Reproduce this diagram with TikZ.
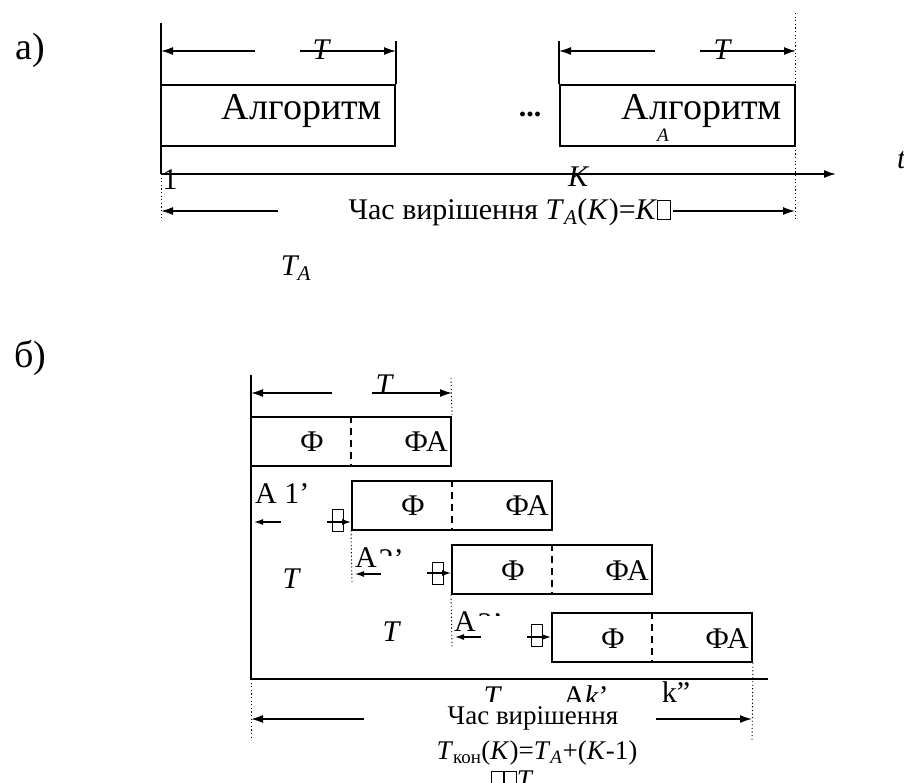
\documentclass[tikz,border=0pt]{standalone}
\usepackage{fontspec}
\setmainfont{Liberation Serif}
\usetikzlibrary{arrows.meta}
\newcommand\glyphbox{{\setlength\fboxsep{0pt}\setlength\fboxrule{0.9pt}\fbox{\rule{0pt}{0.62em}\hspace{0.42em}}}}
\begin{document}
\begin{tikzpicture}[x=1pt,y=-1pt,
  ln/.style={line width=1.5pt},
  arr/.style={ln,-{Latex[length=12pt,width=8pt]}},
  sarr/.style={line width=1.2pt,-{Latex[length=9pt,width=6pt]}},
  dotl/.style={line width=0.9pt,dash pattern=on 1.2pt off 2.4pt},
  blk/.style={draw,line width=2pt,rectangle,inner sep=0pt},
  algbox/.style={blk,minimum width=234pt,minimum height=61pt},
  phibox/.style={blk,minimum width=200pt,minimum height=49pt},
  gbox/.style={draw,line width=1pt,rectangle,inner sep=0pt,minimum width=11pt,minimum height=22pt},
  divider/.style={line width=2pt,dash pattern=on 7pt off 5pt},
  lbl/.style={inner sep=0pt,font=\fontsize{30}{34}\selectfont},
  big/.style={inner sep=0pt,font=\fontsize{38}{42}\selectfont},
  capa/.style={inner sep=1pt,font=\fontsize{30}{34}\selectfont},
  capb/.style={inner sep=1pt,font=\fontsize{27}{30}\selectfont},
  it/.style={inner sep=0pt,font=\fontsize{30}{34}\selectfont\itshape},
  sub/.style={inner sep=0pt,font=\fontsize{19}{22}\selectfont\itshape}
]
\useasboundingbox (0,0) rectangle (904,783);
% ---------------- part a ----------------
\node[big] (la) at (30,50) {а)};
\node[algbox] (b1) at (278,115.5) {};
\node[algbox,minimum width=235pt] (b2) at (677.5,115.5) {};
\node[big] (t1) at (302,111) {Алгоритм};
\node[big] (t2) at (702,111) {Алгоритм};
\node[sub] (t2s) at (663,135) {A};
\node[lbl] (dots) at (530,114) {\textbf{...}};
\coordinate (vtop) at (161,23);
\coordinate (ax0) at (161,174);
\coordinate (ax1) at (836,174);
\draw[ln] (vtop) -- (ax0);
\draw[arr] (ax0) -- (ax1);
% top dimension arrows
\coordinate (d1a) at (255,51);
\coordinate (d1b) at (300,51);
\draw[arr] (d1a) -- (vtop |- d1a);
\draw[arr] (d1b) -- (b1.north east |- d1b);
\draw[ln] (b1.north east) -- ++(0,-43);
\node[it] (T1) at (321,50) {T};
\coordinate (d2a) at (655,51);
\coordinate (d2b) at (700,51);
\draw[arr] (d2a) -- (b2.north west |- d2a);
\draw[arr] (d2b) -- (b2.north east |- d2b);
\draw[ln] (b2.north west) -- ++(0,-43);
\node[it] (T2) at (722,50) {T};
% dotted verticals
\coordinate (dr0) at (795,13);
\coordinate (dr1) at (795,220);
\draw[dotl] (dr0) -- (dr1);
\coordinate (dl1) at (161,220);
\draw[dotl] (ax0) -- (dl1);
% axis labels
\node[lbl] (n1) at (170,180) {1};
\node[it] (nK) at (578,177) {K};
\node[it,anchor=west] (nt) at (897,160) {t};
% solution time
\node[capa] (capA) at (510,212) {Час вирішення \textit{T}\textsubscript{\textit{A}}(\textit{K})=\textit{K}\glyphbox};
\coordinate (ba1) at (278,211);
\draw[arr] (ba1) -- (ax0 |- ba1);
\draw[arr] (capA.east |- ba1) -- (dr0 |- ba1);
\node[it] (TA) at (296,268) {T\textsubscript{\textit{A}}};
% ---------------- part b ----------------
\node[big] (lb) at (30,358) {б)};
\coordinate (vb0) at (251,375);
\coordinate (vb1) at (251,679);
\coordinate (axb1) at (768,679);
\draw[ln] (vb0) -- (vb1) -- (axb1);
\node[phibox] (F1) at (351,441) {};
\node[phibox] (F2) at (452,505) {};
\node[phibox] (F3) at (552,569.5) {};
\node[phibox] (F4) at (652,637.5) {};
\foreach \f in {F1,F2,F3,F4}{
  \draw[divider] (\f.north) -- (\f.south);
  \node[lbl] at ([xshift=62pt,yshift=-1pt]\f.west) {Ф};
  \node[lbl,anchor=east] at ([xshift=-4pt,yshift=-1pt]\f.east) {ФА};
}
% top dimension
\coordinate (e1a) at (332,393);
\coordinate (e1b) at (372,393);
\draw[arr] (e1a) -- (vb0 |- e1a);
\draw[arr] (e1b) -- (F1.north east |- e1b);
\node[it] (T3) at (384,385) {T};
\coordinate (e1t) at (451,378);
\draw[dotl] (e1t) -- (F1.north east);
% glyph boxes with arrows into the boxes
\node[gbox] (g2) at (337.5,520.5) {};
\node[gbox] (g3) at (437.5,573) {};
\node[gbox] (g4) at (537,635.5) {};
\coordinate (g2s) at (327,522);
\coordinate (g3s) at (427,573);
\coordinate (g4s) at (527,637);
\draw[sarr] (g2s) -- (g2s -| F2.west);
\draw[sarr] (g3s) -- (g3s -| F3.west);
\draw[sarr] (g4s) -- (g4s -| F4.west);
% left arrows and labels
\node[lbl,anchor=west] (A1) at (255,494) {А 1'};
\coordinate (a1s) at (281,522); \coordinate (a1e) at (254,522);
\draw[sarr] (a1s) -- (a1e);
\node[lbl] (A2) at (366,558) {А};
\begin{scope}
  \clip (378,540) rectangle (402,555);
  \node[lbl] (A2n) at (391,560) {2'};
\end{scope}
\coordinate (a2s) at (381,574); \coordinate (a2e) at (355,574);
\draw[sarr] (a2s) -- (a2e);
\node[lbl] (A3) at (465,622) {А};
\begin{scope}
  \clip (477,604) rectangle (500,615);
  \node[lbl] (A3n) at (490,624) {3'};
\end{scope}
\coordinate (a3s) at (481,637); \coordinate (a3e) at (455,637);
\draw[sarr] (a3s) -- (a3e);
\node[it] (T4) at (291,579) {T};
\node[it] (T5) at (391,632) {T};
% dotted verticals
\coordinate (p2) at (352,583);
\coordinate (p3) at (452,647);
\coordinate (p4) at (752,740);
\coordinate (p1) at (251,740);
\draw[dotl] (F2.south west) -- (p2);
\draw[dotl] (F3.south west) -- (p3);
\draw[dotl] (F4.south east) -- (p4);
\draw[dotl] (vb1) -- (p1);
% clipped labels under the axis
\begin{scope}
  \clip (440,681) rectangle (720,701);
  \node[it] (Tb) at (492,697) {T};
  \node[lbl] (Ak) at (586,696) {А\textit{k}'};
  \node[lbl] (kk) at (676,692) {k''};
\end{scope}
% solution time
\node[capb] (capb1) at (533,718) {Час вирішення};
\node[capb] (capb2) at (537,753) {\textit{T}\textsubscript{кон}(\textit{K})=\textit{T}\textsubscript{\textit{A}}+(\textit{K}-1)};
\node[capb] (capb3) at (512,780) {\glyphbox\glyphbox\textit{T}};
\coordinate (bb1) at (364,719);
\coordinate (bb2) at (656,719);
\draw[arr] (bb1) -- (vb1 |- bb1);
\draw[arr] (bb2) -- (p4 |- bb2);
\end{tikzpicture}
\end{document}
